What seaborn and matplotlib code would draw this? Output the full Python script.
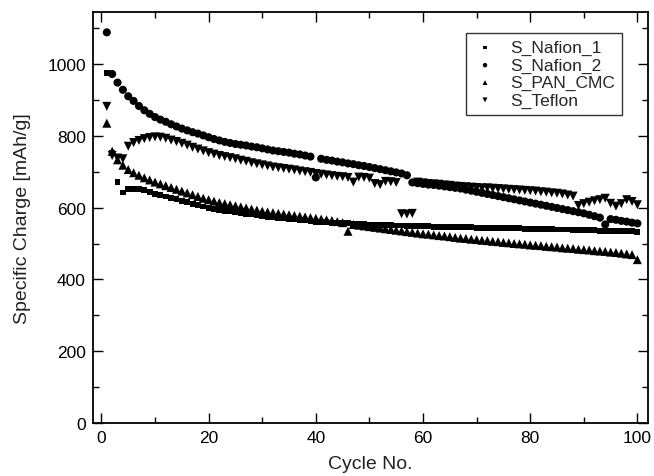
import numpy as np
import pandas as pd
import seaborn as sns
import matplotlib
matplotlib.use("Agg")
import matplotlib.pyplot as plt
from matplotlib.ticker import MultipleLocator

# ciclos y capacidades
cycles = list(range(1, 101))

nafion_1 = [975, 752, 672, 642, 652, 653, 651, 648, 644, 639,
            635, 631, 627, 623, 619, 615, 611, 607, 603, 600,
            597, 594, 591, 589, 587, 585, 583, 581, 579, 577,
            575, 574, 572, 570, 569, 567, 566, 564, 563, 561,
            560, 559, 558, 557, 556, 556, 555, 554, 554, 553,
            552, 552, 551, 551, 550, 550, 549, 549, 548, 548,
            548, 547, 547, 546, 546, 546, 545, 545, 545, 544,
            544, 544, 543, 543, 543, 542, 542, 542, 541, 541,
            541, 540, 540, 540, 539, 539, 539, 538, 538, 538,
            537, 537, 536, 536, 536, 535, 535, 534, 534, 532]

nafion_2 = [1088, 972, 948, 928, 910, 897, 883, 871, 861, 852,
            845, 839, 832, 826, 820, 815, 810, 806, 801, 796,
            791, 787, 783, 780, 777, 775, 773, 770, 768, 765,
            762, 759, 757, 755, 753, 750, 748, 745, 742, 684,
            736, 733, 731, 728, 726, 723, 721, 718, 716, 713,
            710, 707, 704, 701, 698, 695, 690, 670, 668, 666,
            664, 663, 661, 659, 657, 655, 653, 650, 647, 644,
            641, 638, 635, 632, 629, 626, 623, 620, 617, 614,
            611, 608, 605, 602, 599, 596, 593, 590, 587, 584,
            580, 576, 572, 553, 568, 566, 563, 561, 558, 556]

pan_cmc = [835, 757, 733, 718, 706, 697, 690, 683, 677, 671,
           666, 661, 656, 651, 646, 641, 636, 631, 626, 622,
           618, 614, 611, 608, 605, 602, 599, 596, 593, 590,
           588, 586, 584, 582, 580, 578, 576, 574, 572, 570,
           568, 566, 564, 561, 558, 534, 553, 551, 549, 547,
           545, 543, 541, 539, 537, 535, 533, 531, 529, 527,
           526, 524, 522, 521, 519, 517, 515, 514, 512, 511,
           509, 508, 506, 505, 503, 502, 500, 499, 498, 496,
           495, 494, 492, 491, 490, 488, 487, 486, 484, 483,
           482, 480, 479, 478, 476, 475, 473, 471, 469, 455]

teflon = [882, 745, 738, 736, 771, 781, 787, 792, 795, 797,
          796, 793, 788, 784, 779, 774, 768, 763, 758, 753,
          749, 745, 742, 739, 736, 732, 729, 725, 722, 719,
          716, 713, 711, 709, 707, 705, 702, 700, 698, 695,
          693, 691, 689, 687, 686, 684, 671, 685, 684, 682,
          667, 664, 673, 672, 670, 583, 582, 584, 671, 669,
          667, 666, 665, 663, 662, 660, 659, 658, 657, 656,
          655, 655, 654, 653, 652, 651, 650, 649, 648, 647,
          646, 644, 643, 641, 640, 638, 635, 632, 606, 611,
          615, 619, 622, 626, 612, 604, 611, 622, 617, 608]

names = ["S_Nafion_1", "S_Nafion_2", "S_PAN_CMC", "S_Teflon"]
values = [nafion_1, nafion_2, pan_cmc, teflon]
markers = ["s", "o", "^", "v"]
sizes = [18, 34, 42, 42]

rows = []
for n, v in zip(names, values):
    for c, y in zip(cycles, v):
        rows.append((n, c, y))
df = pd.DataFrame(rows, columns=["serie", "cycle", "charge"])

sns.set_style("ticks")
plt.rcParams["font.family"] = ["Liberation Sans", "DejaVu Sans"]

fig = plt.figure(figsize=(6.54, 4.77), dpi=100)
ax = fig.add_axes([0.142, 0.111, 0.849, 0.862])

for n, m, s in zip(names, markers, sizes):
    sns.scatterplot(data=df[df["serie"] == n], x="cycle", y="charge",
                    marker=m, s=s, color="black", edgecolor="none",
                    label=n, ax=ax)

ax.set_xlim(-1.6, 102)
ax.set_ylim(0, 1145)
ax.xaxis.set_major_locator(MultipleLocator(20))
ax.xaxis.set_minor_locator(MultipleLocator(10))
ax.yaxis.set_major_locator(MultipleLocator(200))
ax.yaxis.set_minor_locator(MultipleLocator(100))
ax.tick_params(which="both", direction="in", top=True, right=True,
               width=1.0, labelsize=12.5, colors="black")
ax.tick_params(which="major", length=7, pad=5)
ax.tick_params(which="minor", length=4)
for sp in ax.spines.values():
    sp.set_linewidth(1.3)
    sp.set_color("black")

ax.set_xlabel("Cycle No.", fontsize=14, color="#222222", labelpad=7)
ax.set_ylabel("Specific Charge [mAh/g]", fontsize=14, color="#222222", labelpad=12)

leg = ax.legend(loc="upper right", bbox_to_anchor=(0.953, 0.948), fontsize=12.5,
                frameon=True, fancybox=False, edgecolor="black",
                handletextpad=0.75, borderpad=0.4, labelspacing=0.12,
                markerscale=0.55, handlelength=1.4, borderaxespad=0)
leg.get_frame().set_linewidth(1.0)

fig.savefig("out.png", dpi=100)
